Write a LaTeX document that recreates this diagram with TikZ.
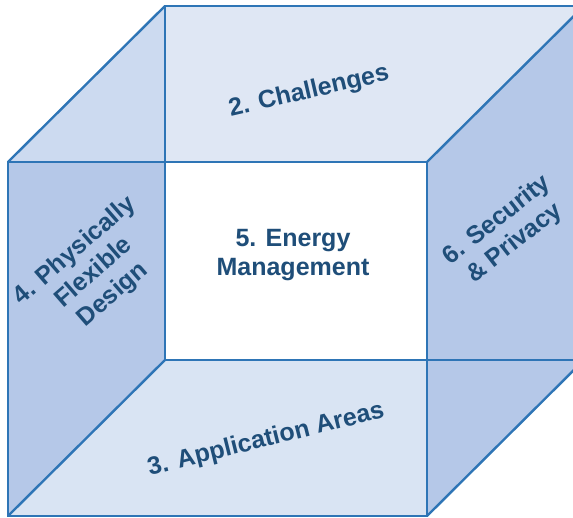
\documentclass[tikz,border=0pt]{standalone}
\usepackage{fontspec}
\setmainfont{Liberation Sans}
\definecolor{edgeblue}{HTML}{2E75B6}
\definecolor{textblue}{HTML}{1F4E79}
\definecolor{topfill}{HTML}{DFE7F4}
\definecolor{sidefill}{HTML}{B5C8E8}
\definecolor{cornerfill}{HTML}{CCDAF0}
\definecolor{bottomfill}{HTML}{D9E4F3}

\begin{document}
\begin{tikzpicture}[x=1pt,y=1pt,
  cubeline/.style={draw=edgeblue,line width=2.4pt,line join=miter},
  facetext/.style={text=textblue,font=\fontsize{25}{29}\selectfont\bfseries,align=center}]
\useasboundingbox (0,0) rectangle (573,518);
\clip (0,0) rectangle (573,518);
% front face corners
\coordinate (fbl) at (8,2);
\coordinate (fbr) at (427,2);
\coordinate (ftr) at (427,356);
\coordinate (ftl) at (8,356);
% back face corners
\coordinate (bbl) at (165,158);
\coordinate (bbr) at (584,158);
\coordinate (btr) at (584,512);
\coordinate (btl) at (165,512);
% faces
\fill[topfill] (ftl) -- (btl) -- (btr) -- (ftr) -- cycle;
\fill[cornerfill] (ftl) -- (btl) -- (165,356) -- cycle;
\fill[sidefill] (ftl) -- (165,356) -- (bbl) -- (fbl) -- cycle;
\fill[bottomfill] (fbl) -- (bbl) -- (427,158) -- (fbr) -- cycle;
\fill[sidefill] (ftr) -- (btr) -- (bbr) -- (fbr) -- cycle;
\fill[white] (bbl) rectangle (ftr);
% edges
\path[cubeline] (fbl) -- (fbr) -- (ftr) -- (ftl) -- cycle;
\path[cubeline] (bbl) -- (bbr) -- (btr) -- (btl) -- cycle;
\path[cubeline] (fbl) -- (bbl);
\path[cubeline] (fbr) -- (bbr);
\path[cubeline] (ftr) -- (btr);
\path[cubeline] (ftl) -- (btl);
% labels
\node[facetext,rotate=13] (chal) at (309,426) {2. Challenges};
\node[facetext] (energy) at (293,263) {5. Energy\\Management};
\node[facetext,rotate=41] (flex) at (94,245) {4. Physically\\Flexible\\Design};
\node[facetext,rotate=38] (secu) at (506,286) {6. Security\\\& Privacy};
\node[facetext,rotate=14] (appl) at (266,78) {3. Application Areas};
\end{tikzpicture}
\end{document}
